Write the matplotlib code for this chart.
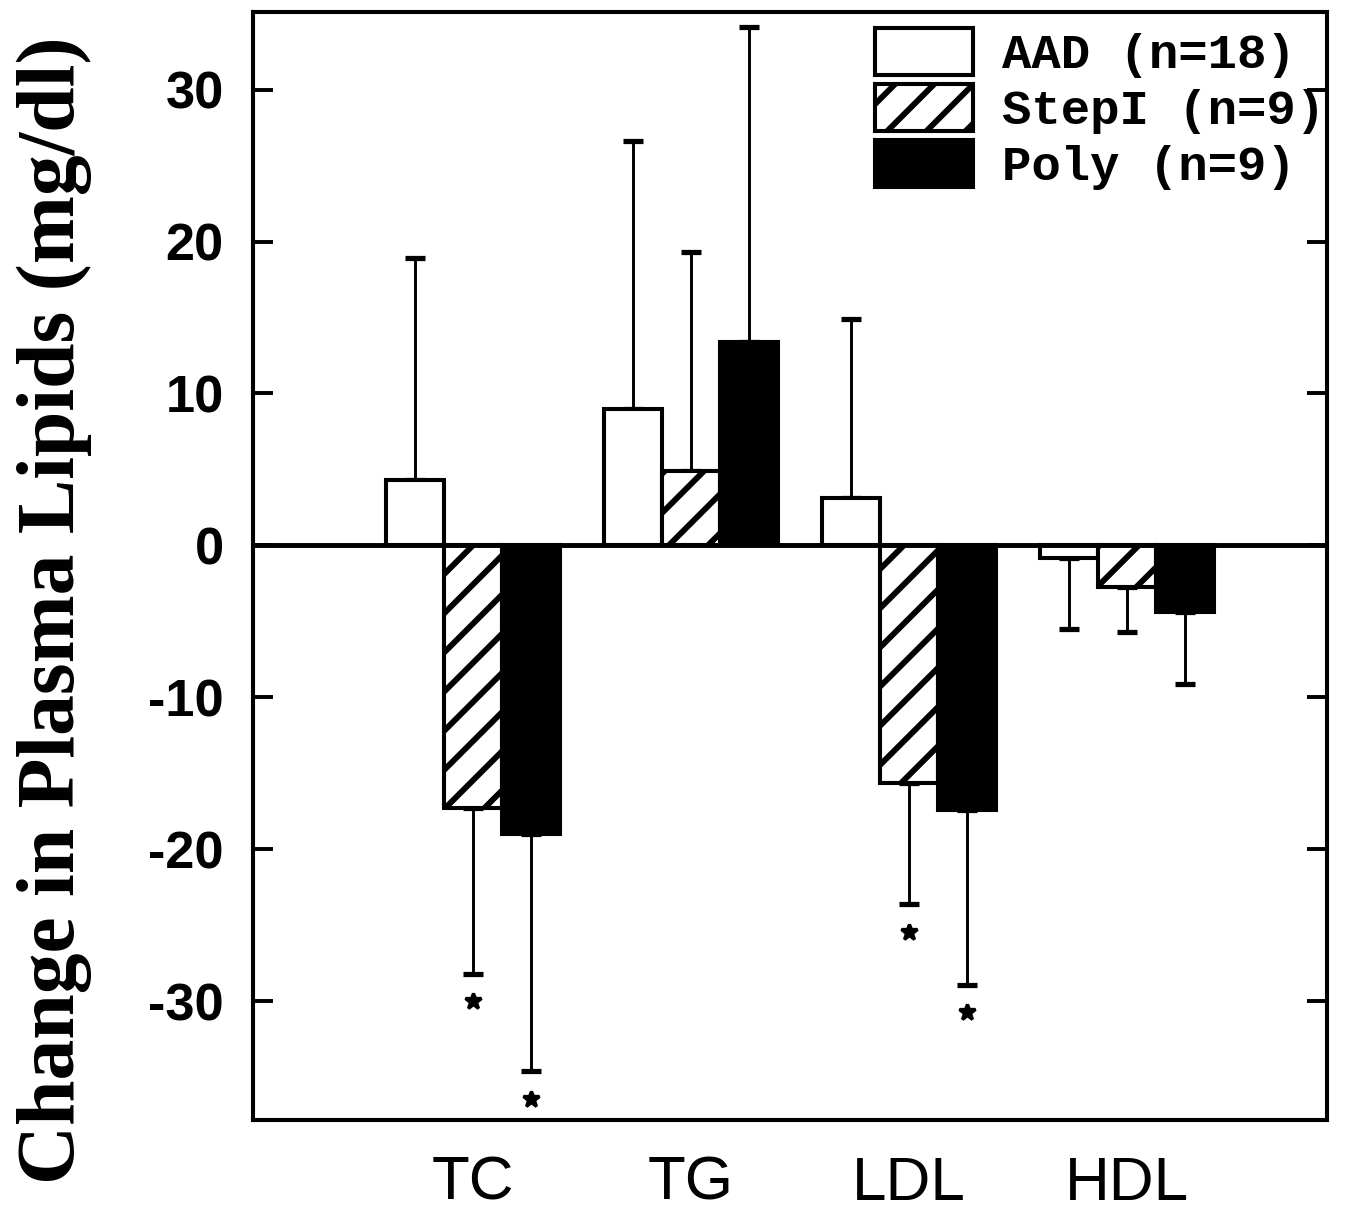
import numpy as np
import matplotlib
matplotlib.use("Agg")
import matplotlib.pyplot as plt
from matplotlib.patches import Patch

# data (mg/dl)
categories = ["TC", "TG", "LDL", "HDL"]
groups = ["AAD (n=18)", "StepI (n=9)", "Poly (n=9)"]
aad = [4.3, 9.0, 3.1, -0.8]
stepi = [-17.3, 4.9, -15.6, -2.7]
poly = [-19.0, 13.4, -17.4, -4.4]
aad_sd = [14.6, 17.6, 11.8, 4.7]
stepi_sd = [10.9, 14.4, 8.0, 3.0]
poly_sd = [15.6, 20.7, 11.5, 4.7]
# significance marks (*)
aad_sig = [False, False, False, False]
stepi_sig = [True, False, True, False]
poly_sig = [True, False, True, False]
yticks = [-30, -20, -10, 0, 10, 20, 30]

plt.rcParams["axes.unicode_minus"] = False
plt.rcParams["hatch.linewidth"] = 1.8

DPI = 235
fig = plt.figure(figsize=(1357 / DPI, 1220 / DPI), dpi=DPI)
ax = fig.add_axes([253 / 1357, 100 / 1220, 1074 / 1357, 1108 / 1220])

x = np.arange(len(categories))
w = 0.266
series = [
    (aad, aad_sd, aad_sig, dict(facecolor="white", hatch=None)),
    (stepi, stepi_sd, stepi_sig, dict(facecolor="white", hatch="//")),
    (poly, poly_sd, poly_sig, dict(facecolor="black", hatch=None)),
]

for i, (vals, sd, sig, style) in enumerate(series):
    xs = x + (i - 1) * w
    vals = np.array(vals)
    sd = np.array(sd)
    ax.bar(xs, vals, w, edgecolor="black", linewidth=1.25, zorder=3, **style)
    lower = np.where(vals < 0, sd, 0)
    upper = np.where(vals >= 0, sd, 0)
    ax.errorbar(xs, vals, yerr=[lower, upper], fmt="none", ecolor="black",
                elinewidth=0.9, capsize=3, capthick=1.6, zorder=2)
    for xi, v, s, flag in zip(xs, vals, sd, sig):
        if flag:
            ax.plot(xi, v - s - 1.8, marker="*", ms=5, color="black", zorder=4)

ax.axhline(0, color="black", linewidth=1.5, zorder=4)

ax.set_xlim(-1.01, 3.92)
ax.set_ylim(-37.8, 35.1)
ax.set_xticks(x)
ax.set_xticklabels(categories, fontsize=19, family="Liberation Sans")
ax.tick_params(axis="x", length=0, pad=11)
ax.set_yticks(yticks)
ax.set_yticklabels([str(t) for t in yticks], fontsize=16,
                   family="Liberation Sans", fontweight="bold")
ax.tick_params(axis="y", direction="in", length=6, width=1.2, pad=9,
               left=True, right=True)
for sp in ax.spines.values():
    sp.set_linewidth(1.25)

ax.set_ylabel("Change in Plasma Lipids (mg/dl)", fontsize=25,
              family="Liberation Serif", fontweight="bold")
ax.yaxis.set_label_coords(-0.15, 0.46)

handles = [
    Patch(facecolor="white", edgecolor="black", linewidth=1.25),
    Patch(facecolor="white", edgecolor="black", linewidth=1.25, hatch="//"),
    Patch(facecolor="black", edgecolor="black", linewidth=1.25),
]
ax.legend(handles, groups, loc="upper left", bbox_to_anchor=(0.579, 0.986),
          frameon=False, borderpad=0, borderaxespad=0, labelspacing=0.12,
          handlelength=2.0, handleheight=1.1, handletextpad=0.6,
          prop=dict(family="Liberation Mono", weight="bold", size=15))

fig.savefig("out.png", dpi=DPI)
